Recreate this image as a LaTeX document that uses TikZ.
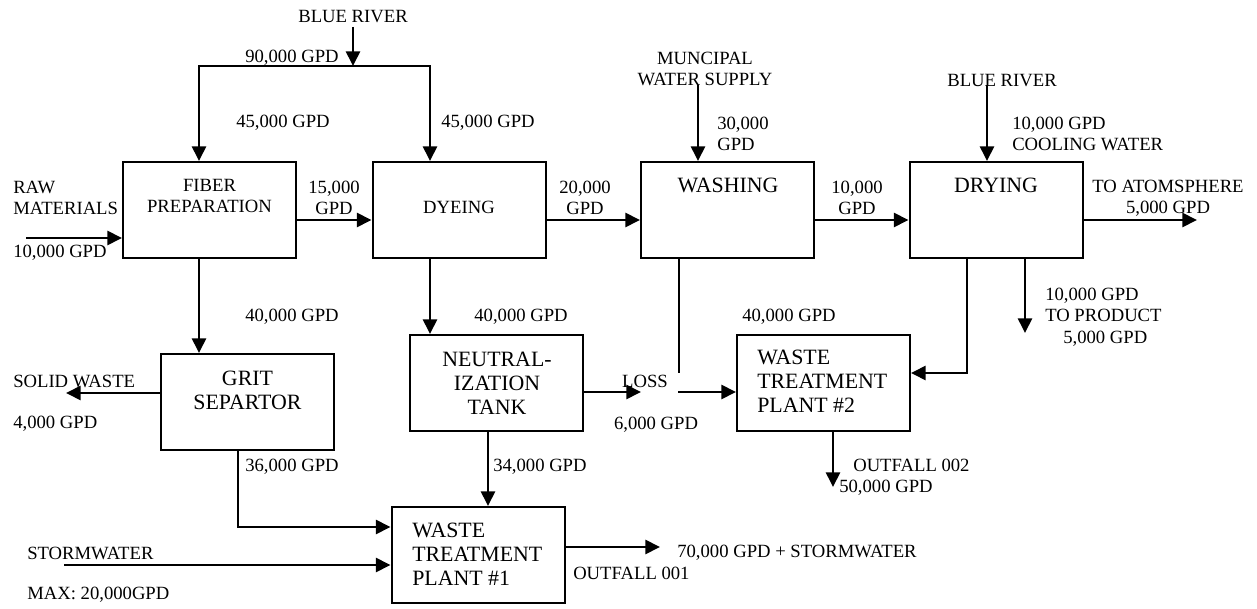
\documentclass[tikz,border=0pt]{standalone}
\usepackage{fontspec}
\setmainfont{Liberation Serif}
\usetikzlibrary{arrows.meta}
\begin{document}
\begin{tikzpicture}[x=0.75pt,y=-0.75pt,
  lbl/.style={inner sep=0pt,font=\fontsize{14}{16}\selectfont},
  big/.style={inner sep=0pt,font=\fontsize{16.4}{18}\selectfont},
  box/.style={draw,line width=1.5pt,minimum width=129.75pt,minimum height=72pt,inner sep=0pt},
  flow/.style={line width=2pt,-{Triangle[length=11pt,width=10.5pt]}},
  pipe/.style={line width=2pt}]
\useasboundingbox (0,0) rectangle (1257,609);
% boxes
\node[box] (fib) at (209.5,210) {};
\node[box] (dye) at (459,210) {};
\node[box] (wash) at (727.5,210) {};
\node[box] (dry) at (996,210) {};
\node[box] (grit) at (247.5,402) {};
\node[box] (neut) at (496.5,383) {};
\node[box] (wtp2) at (823.5,383) {};
\node[box] (wtp1) at (478,555) {};
% box texts
\node[lbl,align=center] (tfib) at (209.5,196) {FIBER\\PREPARATION};
\node[lbl] (tdye) at (459,207) {DYEING};
\node[big] (twash) at (728,185) {WASHING};
\node[big] (tdry) at (996,185) {DRYING};
\node[big,align=center] (tgrit) at (247.5,390) {GRIT\\SEPARTOR};
\node[big,align=center] (tneut) at (497,383) {NEUTRAL-\\IZATION\\TANK};
\node[big,align=left,anchor=west] (twtp2) at (757,381) {WASTE\\TREATMENT\\PLANT \#2};
\node[big,align=left,anchor=west] (twtp1) at (412,554) {WASTE\\TREATMENT\\PLANT \#1};
% coordinates
\coordinate (br1) at (353,27);
\coordinate (brj) at (353,66);
\coordinate (riverL) at (199,66);
\coordinate (riverR) at (430,66);
\coordinate (rawin) at (26,238);
\coordinate (atm) at (1197,220);
\coordinate (mun) at (698,85);
\coordinate (br2) at (987,85);
\coordinate (sw) at (66,393);
\coordinate (storm) at (64,565);
\coordinate (nx) at (488,0);
\coordinate (out1) at (660,547);
\coordinate (loss) at (641,392);
\coordinate (wend) at (679,373);
\coordinate (lossr) at (678,392);
\coordinate (prod) at (1025,333);
\coordinate (out2) at (833,487);
% connectors
\draw[flow] (br1) -- (brj);
\draw[flow] (riverR) -- (riverL) -- (riverL |- fib.north);
\draw[flow] (riverL) -- (riverR) -- (riverR |- dye.north);
\draw[flow] (rawin) -- (rawin -| fib.west);
\draw[flow] ([yshift=-7.5pt]fib.east) -- ([yshift=-7.5pt]dye.west);
\draw[flow] ([yshift=-7.5pt]dye.east) -- ([yshift=-7.5pt]wash.west);
\draw[flow] ([yshift=-7.5pt]wash.east) -- ([yshift=-7.5pt]dry.west);
\draw[flow] ([yshift=-7.5pt]dry.east) -- (atm);
\draw[flow] (mun) -- (mun |- wash.north);
\draw[flow] (br2) -- (br2 |- dry.north);
\draw[flow] (riverL |- fib.south) -- (riverL |- grit.north);
\draw[flow] (riverR |- dye.south) -- (riverR |- neut.north);
\draw[flow] ([yshift=6.75pt]grit.west) -- (sw);
\draw[flow] ([xshift=-7.125pt]grit.south) |- ([yshift=21pt]wtp1.west);
\draw[flow] (storm) -- (storm -| wtp1.west);
\draw[flow] (nx |- neut.south) -- (nx |- wtp1.north);
\draw[flow] ([yshift=6pt]wtp1.east) -- (out1);
\draw[flow] ([yshift=-6.75pt]neut.east) -- (loss);
\draw[pipe] ([xshift=-36.375pt]wash.south) -- (wend);
\draw[flow] (lossr) -- (lossr -| wtp2.west);
\draw[flow] ([xshift=-21.75pt]dry.south) |- ([yshift=7.5pt]wtp2.east);
\draw[flow] ([xshift=21.75pt]dry.south) -- (prod);
\draw[flow] ([xshift=7.125pt]wtp2.south) -- (out2);
% labels
\node[lbl] (l1) at (353,17) {BLUE RIVER};
\node[lbl] (l2) at (292,58) {90,000 GPD};
\node[lbl] (l3) at (283,123) {45,000 GPD};
\node[lbl] (l4) at (488,123) {45,000 GPD};
\node[lbl,align=left,anchor=west] (l5) at (13,198) {RAW\\MATERIALS};
\node[lbl,anchor=west] (l6) at (13,253) {10,000 GPD};
\node[lbl,align=center] (l7) at (334,198) {15,000\\GPD};
\node[lbl,align=center] (l8) at (585,198) {20,000\\GPD};
\node[lbl,align=center] (l9) at (705,69) {MUNCIPAL\\WATER SUPPLY};
\node[lbl,align=left,anchor=west] (l10) at (717,134) {30,000\\GPD};
\node[lbl,align=center] (l11) at (857,198) {10,000\\GPD};
\node[lbl] (l12) at (1002,81) {BLUE RIVER};
\node[lbl,align=left,anchor=west] (l13) at (1012,134) {10,000 GPD\\COOLING WATER};
\node[lbl,align=center] (l14) at (1168,198) {TO ATOMSPHERE\\5,000 GPD};
\node[lbl] (l15) at (292,317) {40,000 GPD};
\node[lbl] (l16) at (521,317) {40,000 GPD};
\node[lbl,anchor=west] (l17) at (742,317) {40,000 GPD};
\node[lbl,align=left,anchor=west] (l18) at (1045,317) {10,000 GPD\\TO PRODUCT\\\hspace*{13.5pt}5,000 GPD};
\node[lbl,anchor=west] (l19) at (13,381) {SOLID WASTE};
\node[lbl,anchor=west] (l20) at (13,424) {4,000 GPD};
\node[lbl] (l21) at (645,381) {LOSS};
\node[lbl] (l22) at (656,425) {6,000 GPD};
\node[lbl] (l23) at (292,467) {36,000 GPD};
\node[lbl,anchor=west] (l24) at (493,467) {34,000 GPD};
\node[lbl,align=left,anchor=west] (l25) at (839,477) {\hspace*{10.5pt}OUTFALL 002\\50,000 GPD};
\node[lbl,anchor=west] (l26) at (677,553) {70,000 GPD + STORMWATER};
\node[lbl,anchor=west] (l27) at (573,573) {OUTFALL 001};
\node[lbl,anchor=west] (l28) at (27,553) {STORMWATER};
\node[lbl,anchor=west] (l29) at (27,595) {MAX: 20,000GPD};
\end{tikzpicture}
\end{document}
